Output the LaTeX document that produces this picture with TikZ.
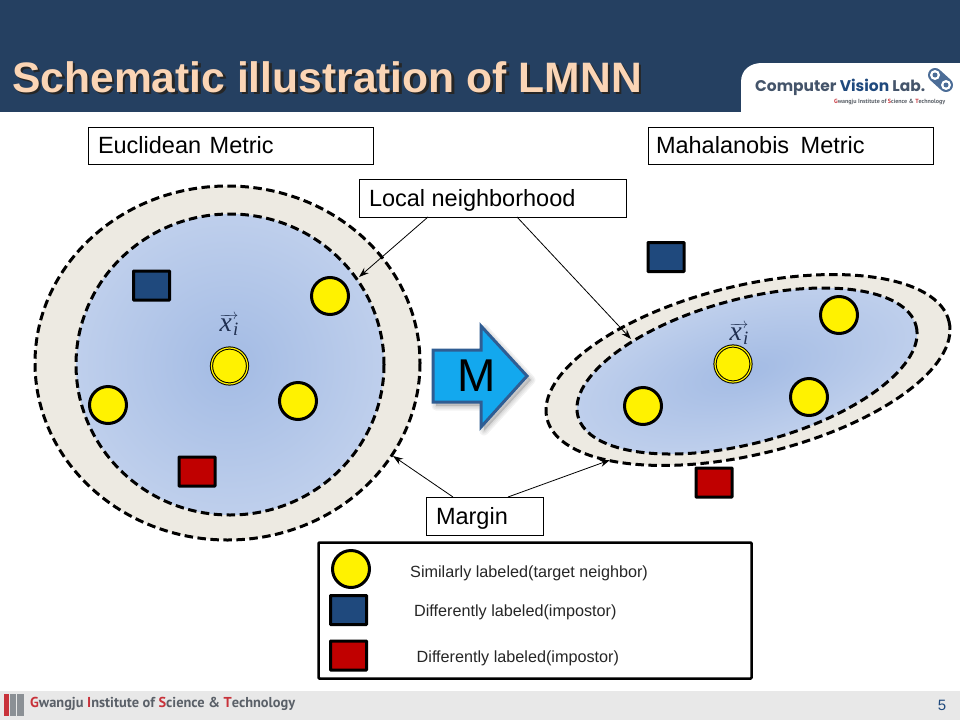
\documentclass[tikz,border=0pt]{standalone}
\usepackage{fontspec}
\setmainfont{Liberation Sans}
\newfontfamily\logofont{Poppins}
\newfontfamily\footfont{PT Sans}
\newfontfamily\mathserif{Liberation Serif}
\usetikzlibrary{arrows.meta}
\definecolor{headbg}{HTML}{254061}
\definecolor{titlecol}{HTML}{FBD5B5}
\definecolor{beige}{HTML}{EDEAE2}
\definecolor{sqblue}{HTML}{1F497D}
\definecolor{sqred}{HTML}{C00000}
\definecolor{mblue}{HTML}{13A8EE}
\definecolor{mborder}{HTML}{2F5D93}
\definecolor{footbg}{HTML}{E8E8E8}
\definecolor{logoblue}{HTML}{44546A}
\definecolor{footgrey}{HTML}{5A6068}
\definecolor{footred}{HTML}{C8323A}
\definecolor{mathcol}{HTML}{1F2F50}
\colorlet{shadein}{rgb,255:red,163;green,187;blue,228}
\colorlet{shadeout}{rgb,255:red,218;green,227;blue,244}
\pgfdeclareradialshading{blueglow}{\pgfpointorigin}{color(0bp)=(shadein); color(50bp)=(shadeout)}
\newcommand{\vecxi}{\scalebox{1.45}{$\overrightarrow{\hbox{\mathserif\itshape\fontsize{19}{19}\selectfont x\hspace{1pt}\raisebox{-3pt}{\fontsize{13}{13}\selectfont i}}}$}}
\tikzset{
  ringdash/.style={draw=black,line width=3pt,dash pattern=on 8.5pt off 4.5pt},
  outerring/.style={ringdash,fill=beige},
  innerring/.style={ringdash,shading=blueglow},
  dot/.style={circle,draw=black,line width=3pt,fill=yellow,minimum size=37pt,inner sep=0pt,outer sep=0pt},
  centerdot/.style={circle,draw=black,double=yellow,double distance=1.2pt,line width=1pt,fill=yellow,minimum size=36pt,inner sep=0pt,outer sep=0pt},
  sq/.style={draw=black,line width=3pt,minimum width=36pt,minimum height=29pt,inner sep=0pt,outer sep=0pt,rounded corners=0.5pt},
  bluesq/.style={sq,fill=sqblue},
  redsq/.style={sq,fill=sqred},
  labelbox/.style={draw=black,line width=1pt,fill=white,inner sep=0pt,outer sep=0pt,anchor=north west,text height=18pt,text depth=2pt,font=\fontsize{23.5}{26}\selectfont},
  legendtext/.style={anchor=west,inner sep=0pt,font=\fontsize{16.2}{18}\selectfont,text=black!85},
  conn/.style={draw=black,line width=0.8pt,-{Stealth[length=10pt,width=7pt]}},
  mathlabel/.style={inner sep=0pt,text=mathcol},
  titlefont/.style={anchor=west,inner sep=0pt,font=\fontsize{42.6}{46}\selectfont\bfseries},
  plainlabel/.style={anchor=west,inner sep=0pt},
}
\begin{document}
\begin{tikzpicture}[x=1pt,y=-1pt]
\useasboundingbox (0,0) rectangle (960,720);
% header
\fill[headbg] (0,0) rectangle (960,112);
\node[titlefont,text=black!85] (titleshadow) at (14.5,79.5) {Schematic illustration of LMNN};
\node[titlefont,text=titlecol] (title) at (12,77) {Schematic illustration of LMNN};
% logo
\fill[white] (741,112) -- (741,82) .. controls (741,70) and (750,63) .. (762,63) -- (960,63) -- (960,112) -- cycle;
\node[plainlabel] (logotext) at (755,87) {\resizebox{170pt}{!}{\logofont\bfseries\textcolor{logoblue}{Computer} \textcolor{sqblue}{Vision} \textcolor{logoblue}{Lab.}}};
\node[plainlabel] (logosub) at (834,102) {\resizebox{111pt}{!}{\footfont\bfseries\textcolor{footgrey}{\textcolor{footred}{G}wangju Institute of \textcolor{footred}{S}cience \& \textcolor{footred}{T}echnology}}};
\draw[sqblue!80!white,line width=14pt,line cap=round] (935,75) -- (946,85);
\fill[white] (935,75) circle (5pt);
\fill[white] (946,85) circle (5pt);
\fill[sqblue!80!white] (935,75) circle (2.5pt);
\fill[sqblue!80!white] (946,85) circle (2.5pt);
% footer
\fill[footbg] (0,691) rectangle (960,720);
\fill[footred] (4,694) rectangle (8.5,716);
\fill[footgrey!70] (9.5,694) rectangle (16,716);
\fill[footgrey!70] (17,694) rectangle (24,716);
\node[plainlabel] (foottext) at (30,704) {\resizebox{265pt}{!}{\footfont\bfseries\textcolor{footgrey}{\textcolor{footred}{G}wangju \textcolor{footred}{I}nstitute of \textcolor{footred}{S}cience \& \textcolor{footred}{T}echnology}}};
\node[inner sep=0pt,font=\fontsize{15}{17}\selectfont,text=sqblue] (pagenum) at (942,705) {5};
% left rings
\path[outerring] (227.5,363) ellipse [x radius=192.5,y radius=177];
\path[innerring] (230,364.5) ellipse [x radius=154,y radius=150.5];
% right rings
\path[outerring,rotate around={13.6:(748,370)}] (748,370) ellipse [x radius=206.8,y radius=84.5];
\begin{scope}[transform canvas={rotate around={15:(747pt,-371pt)}}]
\path[innerring] (747,371) ellipse [x radius=175,y radius=72];
\end{scope}
% left items
\node[bluesq] (b1) at (151.5,285.5) {};
\node[redsq] (r1) at (197,471.5) {};
\node[dot] (d1) at (330,296) {};
\node[dot] (d2) at (108,405) {};
\node[dot] (d3) at (298,401) {};
\node[centerdot] (c1) at (229.5,366) {};
\node[mathlabel] (x1) at (229,325) {\vecxi};
% right items
\node[bluesq] (b2) at (666,257) {};
\node[redsq] (r2) at (714,482.5) {};
\node[dot] (d4) at (839,315) {};
\node[dot] (d5) at (809,397) {};
\node[dot] (d6) at (643,406) {};
\node[centerdot] (c2) at (733,364) {};
\node[mathlabel] (x2) at (739,334) {\vecxi};
% M arrow
\foreach \w in {9,6,3}
  \path[draw=black,fill=black,opacity=0.05,line width=\w pt,line join=round] (436,354) -- (484,354) -- (484,329) -- (531,380) -- (484,431) -- (484,406) -- (436,406) -- cycle;
\path[draw=mborder,line width=3pt,fill=mblue,line join=miter] (433,350) -- (481,350) -- (481,326) -- (527,376) -- (481,427) -- (481,402) -- (433,402) -- cycle;
\node[inner sep=0pt,font=\fontsize{46}{50}\selectfont,text=black] (mlab) at (477,376) {M};
% boxes
\node[labelbox,minimum width=285pt,minimum height=37pt] (euc) at (88,127) {\makebox[285pt][l]{\hspace*{10pt}Euclidean\hspace{2pt} Metric}};
\node[labelbox,minimum width=285pt,minimum height=37pt] (mah) at (648,127) {\makebox[285pt][l]{\hspace*{8pt}Mahalanobis\hspace{5pt} Metric}};
\node[labelbox,minimum width=267pt,minimum height=38pt] (loc) at (359,179) {\makebox[267pt][l]{\hspace*{10pt}Local neighborhood}};
\node[labelbox,minimum width=117pt,minimum height=38pt] (mar) at (426,497) {\makebox[117pt][l]{\hspace*{10pt}Margin}};
% connectors
\coordinate (t1) at (359,277);
\coordinate (t2) at (631,339);
\coordinate (t3) at (393,456);
\coordinate (t4) at (610,460);
\draw[conn] ([xshift=-64.5pt]loc.south) -- (t1);
\draw[conn] ([xshift=24.5pt]loc.south) -- (t2);
\draw[conn] ([xshift=-31.5pt]mar.north) -- (t3);
\draw[conn] ([xshift=23.5pt]mar.north) -- (t4);
% legend
\node[draw=black,line width=2.5pt,fill=white,minimum width=433pt,minimum height=136pt,inner sep=0pt,outer sep=0pt,rounded corners=1pt] (legend) at (535,610.5) {};
\node[dot] (ld) at (351,569) {};
\node[bluesq] (lb) at (348.5,610) {};
\node[redsq] (lr) at (348.5,655.5) {};
\node[legendtext] (lt1) at (410,573.5) {Similarly labeled(target neighbor)};
\node[legendtext] (lt2) at (414,612) {Differently labeled(impostor)};
\node[legendtext] (lt3) at (416.5,658) {Differently labeled(impostor)};
\end{tikzpicture}
\end{document}
